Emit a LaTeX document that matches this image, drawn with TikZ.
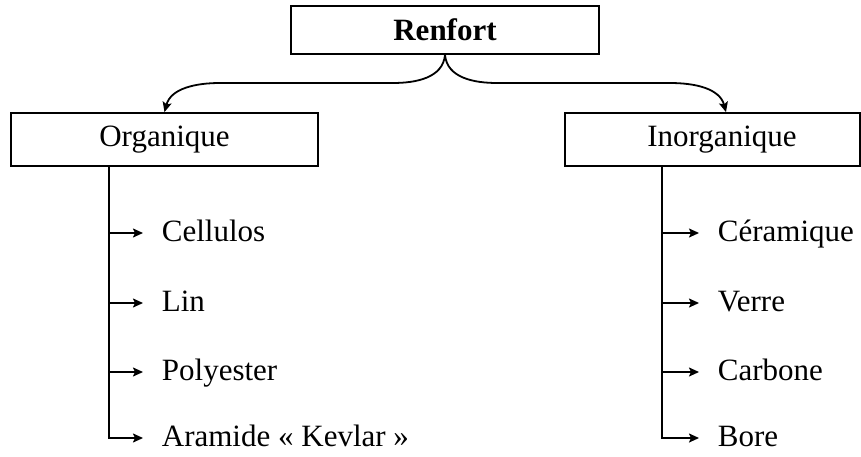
\documentclass[tikz,border=0pt]{standalone}
\usepackage{fontspec}
\setmainfont{Liberation Serif}
\usetikzlibrary{positioning,arrows.meta}

\begin{document}
\begin{tikzpicture}[x=1pt,y=-1pt,line width=1.8pt,
  every node/.style={font=\fontsize{31}{36}\selectfont},
  box/.style={draw,rectangle,inner sep=0pt,minimum height=53pt},
  leaf/.style={anchor=west,inner xsep=18pt,inner ysep=0pt,text height=23pt,text depth=6pt},
  tip/.style={-{Stealth[length=10pt,width=9pt,inset=2pt]}}]
  \useasboundingbox (0,0) rectangle (861,457);
  \node[box,minimum width=308pt,minimum height=48pt] (renfort) at (445,30) {\textbf{Renfort}};
  \node[box,minimum width=307pt] (organique) at (164.5,139.5) {Organique};
  \node[box,minimum width=295pt] (inorganique) at (712.5,139.5) {\hspace*{19pt}Inorganique};
  % the two branches leave the middle of the top box
  \draw[tip] (renfort.south) to[out=-95,in=0] (393,83) -- (220,83) to[out=180,in=75] (organique.north);
  \draw[tip] (renfort.south) to[out=-85,in=180] (497,83) -- (670,83) to[out=0,in=105] ([xshift=13.5pt]inorganique.north);
  \coordinate (otop) at ([xshift=99pt]organique.south west);
  \coordinate (itop) at ([xshift=98pt]inorganique.south west);
  \foreach \name/\txt/\y in {cellulos/Cellulos/233, lin/Lin/303, polyester/Polyester/372, aramide/Aramide « Kevlar »/438}
    \node[leaf] (\name) at (143,\y) {\txt};
  \foreach \name/\txt/\y in {ceramique/Céramique/233, verre/Verre/303, carbone/Carbone/372, bore/Bore/438}
    \node[leaf] (\name) at (699,\y) {\txt};
  \draw[tip] (otop) |- (aramide.west);
  \draw[tip] (itop) |- (bore.west);
  \foreach \name in {cellulos,lin,polyester}
    \draw[tip] (otop |- \name.west) -- (\name.west);
  \foreach \name in {ceramique,verre,carbone}
    \draw[tip] (itop |- \name.west) -- (\name.west);
\end{tikzpicture}
\end{document}
